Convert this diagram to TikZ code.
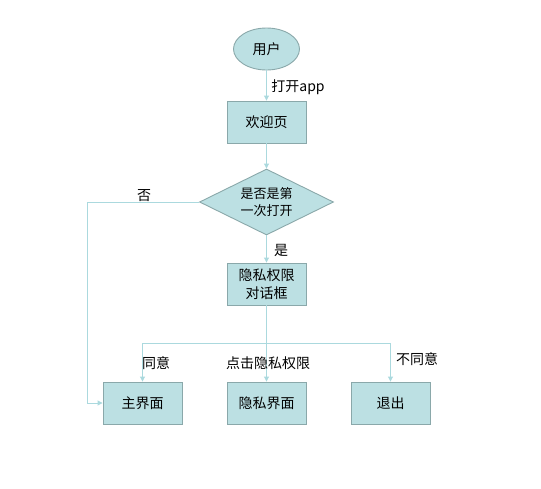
\documentclass[tikz,border=0pt]{standalone}
\usepackage{fontspec}
\setmainfont{Noto Sans CJK SC}
\usetikzlibrary{shapes.geometric,arrows.meta}
\definecolor{boxfill}{HTML}{BCE0E3}
\definecolor{boxline}{HTML}{8AA8AA}
\definecolor{flowline}{HTML}{ABD9DE}
\tikzset{
    box/.style={draw=boxline, fill=boxfill, line width=0.9pt, minimum width=79pt, minimum height=42pt, inner sep=1pt, align=center, font=\fontsize{14}{18}\selectfont},
    flow/.style={draw=flowline, line width=0.9pt, -{Triangle[width=5pt,length=5pt]}},
    tag/.style={font=\fontsize{14}{16}\selectfont, inner sep=0pt}
}
\begin{document}
\begin{tikzpicture}[x=1pt,y=-1pt]
            \useasboundingbox (0,0) rectangle (541,488);
            \node[box, ellipse, minimum width=66pt, minimum height=42pt] (user) at (266.5,49) {用户};
            \node[box] (welcome) at (266.5,122) {欢迎页};
            \node[box, diamond, aspect=2, minimum width=134pt, minimum height=66pt, inner sep=0pt, font=\fontsize{13}{17}\selectfont] (first) at (266.5,202) {是否是第\\一次打开};
            \node[box] (dialog) at (266.5,284) {隐私权限\\对话框};
            \node[box] (main) at (142.5,403) {主界面};
            \node[box] (privacy) at (266.5,403) {隐私界面};
            \node[box] (quit) at (390.5,403) {退出};
            % connectors
            \coordinate (bend) at (87,202);
            \coordinate (split) at (266.5,343);
            \draw[flow] (user) -- (welcome);
            \draw[flow] (welcome) -- (first);
            \draw[flow] (first.west) -- (bend) |- (main.west);
            \draw[flow] (first) -- (dialog);
            \draw[draw=flowline, line width=0.9pt] (dialog) -- (split);
            \draw[flow] (split) -| (main);
            \draw[flow] (split) -- (privacy);
            \draw[flow] (split) -| (quit);
            % labels
            \node[tag] (openapp) at (298,87) {打开app};
            \node[tag] (no) at (144,196) {否};
            \node[tag] (yes) at (281,250) {是};
            \node[tag] (agree) at (156,363) {同意};
            \node[tag] (click) at (268,363) {点击隐私权限};
            \node[tag] (disagree) at (417,359) {不同意};
        \end{tikzpicture}
\end{document}
